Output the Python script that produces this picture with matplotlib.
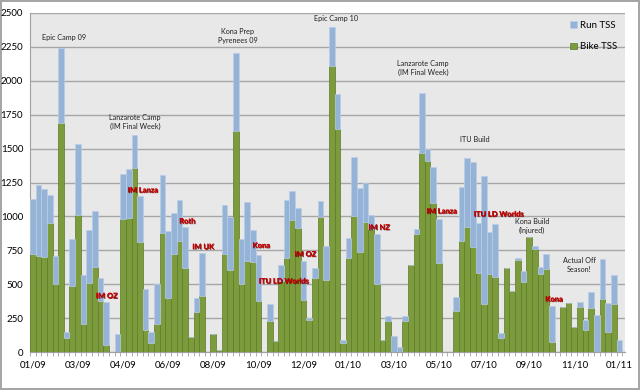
import numpy as np
import matplotlib.pyplot as plt
import matplotlib.patheffects as pe

# weekly TSS, Jan 2009 - Jan 2011
bike_tss = [725, 705, 700, 950, 500, 1690, 105, 490, 1010, 210,
            507, 630, 378, 50, 0, 0, 978, 988, 1355, 812,
            160, 69, 210, 878, 400, 720, 822, 618, 108, 295,
            412, 0, 130, 18, 722, 605, 1627, 500, 673, 664,
            379, 0, 227, 80, 526, 695, 973, 914, 385, 235,
            548, 992, 531, 2107, 1641, 70, 693, 1002, 740, 960,
            905, 500, 90, 225, 0, 0, 232, 645, 867, 1465,
            1409, 1098, 657, 0, 0, 300, 818, 925, 772, 580,
            352, 573, 555, 100, 622, 450, 677, 518, 845, 763,
            573, 610, 74, 0, 333, 361, 182, 335, 162, 322,
            0, 390, 145, 352, 0]
run_tss = [405, 525, 500, 210, 205, 550, 45, 340, 525, 360,
           390, 408, 167, 320, 0, 135, 337, 359, 243, 338,
           305, 81, 290, 430, 490, 305, 300, 304, 0, 100,
           315, 0, 0, 0, 363, 393, 581, 333, 430, 238,
           339, 0, 128, 0, 118, 425, 216, 145, 288, 17,
           74, 123, 248, 289, 260, 20, 147, 433, 467, 289,
           102, 370, 0, 37, 120, 38, 37, 0, 40, 446,
           86, 269, 323, 0, 0, 102, 397, 503, 626, 370,
           946, 312, 392, 37, 0, 0, 18, 82, 5, 19,
           55, 110, 266, 0, 0, 0, 0, 35, 71, 121,
           275, 294, 220, 219, 92]
tick_labels = ['01/09', '03/09', '04/09', '06/09', '08/09', '10/09', '12/09',
               '01/10', '03/10', '05/10', '07/10', '09/10', '11/10', '01/11']

# notes (text, week, TSS)
camp_notes = [("Epic Camp 09", 5.5, 2323),
              ("Lanzarote Camp\n(IM Final Week)", 18.1, 1696),
              ("Kona Prep\nPyrenees 09", 36.3, 2330),
              ("Epic Camp 10", 53.8, 2463),
              ("Lanzarote Camp\n(IM Final Week)", 69.2, 2094),
              ("ITU Build", 78.4, 1570),
              ("Kona Build\n(Injured)", 88.5, 930),
              ("Actual Off\nSeason!", 96.9, 642)]
races = [("IM OZ", 13.1, 415), ("IM Lanza", 19.5, 1195), ("Roth", 27.4, 966),
         ("IM UK", 30.2, 777), ("Kona", 40.5, 787), ("ITU LD Worlds", 44.5, 524),
         ("IM OZ", 48.3, 723), ("IM NZ", 61.4, 920), ("IM Lanza", 72.5, 1040),
         ("ITU LD Worlds", 82.6, 1018), ("Kona", 92.4, 391)]

plt.rcParams['font.family'] = ['Lato', 'DejaVu Sans']

x = np.arange(len(bike_tss))
bike = np.array(bike_tss)
run = np.array(run_tss)

fig = plt.figure(figsize=(6.4, 3.9), dpi=100)
fig.patch.set_edgecolor('#a6a6a6')
fig.patch.set_linewidth(1.5)
ax = fig.add_axes([30 / 640, 1 - 352 / 390, 595 / 640, 339 / 390])
ax.set_facecolor('#e8e8e8')

b1 = ax.bar(x, bike, width=1.0, color='#7b9b3c', edgecolor='#5d7a28', linewidth=0.5, zorder=3)
b2 = ax.bar(x, run, width=1.0, bottom=bike, color='#95b3d7', edgecolor='#b9cde5', linewidth=0.5, zorder=3)

ax.set_xlim(-0.5, 105)
ax.set_ylim(0, 2500)
ax.set_yticks(np.arange(0, 2501, 250))
ax.yaxis.grid(True, color='#a6a6a6', linewidth=1, zorder=0)
ax.set_axisbelow(True)
ax.tick_params(axis='y', length=0, pad=5, labelsize=7)

ax.set_xticks(np.arange(0, 105, 8))
ax.set_xticklabels(tick_labels)
ax.set_xticks(np.arange(-0.5, 105, 1), minor=True)
ax.tick_params(axis='x', which='major', length=0, pad=6, labelsize=7)
ax.tick_params(axis='x', which='minor', length=3, color='#a0a0a0')

for s in ['top', 'right']:
    ax.spines[s].set_visible(False)
for s in ['left', 'bottom']:
    ax.spines[s].set_color('#a0a0a0')

for txt, xi, yv in camp_notes:
    ax.text(xi, yv, txt, ha='center', va='center', fontsize=5.2, color='#222222',
            linespacing=1.4, zorder=5)
for txt, xi, yv in races:
    ax.text(xi, yv, txt, ha='center', va='center', fontsize=5.4, color='#c80000',
            fontweight='bold', zorder=5,
            path_effects=[pe.withSimplePatchShadow(offset=(0.5, -0.5), shadow_rgbFace='#3a0000', alpha=0.8),
                          pe.Normal()])

ax.legend([b2, b1], ['Run TSS', 'Bike TSS'], loc='upper right', bbox_to_anchor=(1.0, 1.0),
          frameon=False, fontsize=7, labelspacing=1.3, handlelength=0.7, handleheight=0.7,
          handletextpad=0.3, borderaxespad=0.4)

fig.savefig('out.png', dpi=100)
